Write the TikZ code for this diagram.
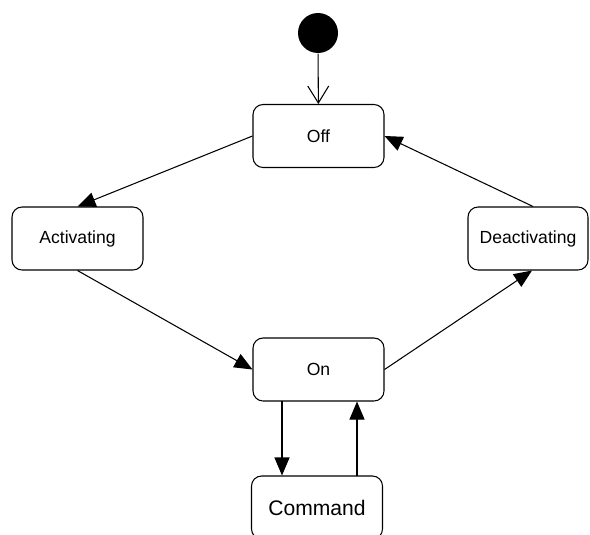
\documentclass[tikz,border=0pt]{standalone}
\usepackage{fontspec}
\setmainfont{Liberation Sans}
\usetikzlibrary{arrows.meta}

\begin{document}
\begin{tikzpicture}[x=0.02cm,y=-0.02cm,semithick,
    state/.style={draw,rounded corners=0.2cm,minimum width=2.62cm,minimum height=1.26cm,font=\fontsize{10}{12}\selectfont},
    trans/.style={-{Triangle[length=0.36cm,width=0.3cm]}}]
                \clip (0,0) rectangle (590,534);
                \fill[white] (0,0) rectangle (590,534);
                \node[circle,fill=black,minimum size=0.8cm,inner sep=0pt] (init) at (318,33) {};
                \node[state] (off) at (318.5,136) {Off};
                \node[state] (act) at (77.5,238.5) {Activating};
                \node[state,minimum width=2.4cm] (deact) at (528,238.5) {Deactivating};
                \node[state] (on) at (318.5,369.5) {On};
                \node[state,font=\fontsize{12}{14}\selectfont] (cmd) at (317,507.5) {Command};
                \draw[-{Straight Barb[length=0.34cm,width=0.42cm]}] (init) -- (off);
                \draw[trans] (off.west) -- (act.north);
                \draw[trans] (act.south) -- (on.west);
                \draw[trans] (on.east) -- ([xshift=0.08cm]deact.south);
                \draw[trans] ([xshift=0.1cm]deact.north) -- (off.east);
                \coordinate (down) at (282,401);
                \coordinate (up) at (357,476);
                \draw[trans] (down) -- (down |- cmd.north);
                \draw[trans] (up) -- (up |- on.south);
            \end{tikzpicture}
\end{document}
